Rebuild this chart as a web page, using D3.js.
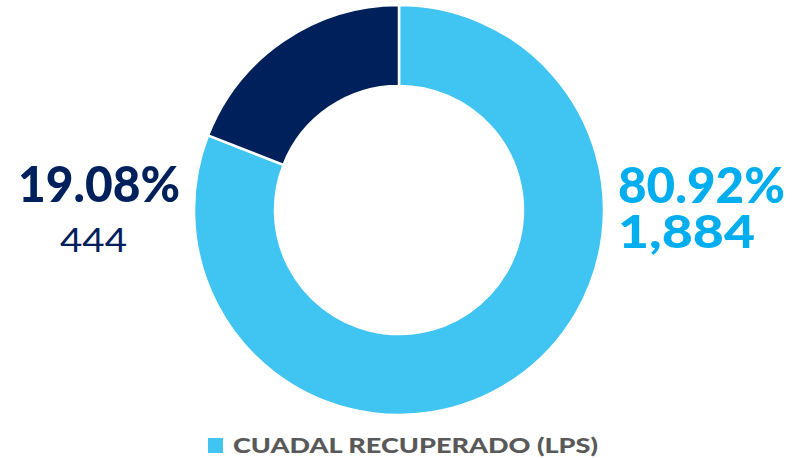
<!DOCTYPE html>
<html>
<head>
<meta charset="utf-8">
<script src="https://cdn.jsdelivr.net/npm/d3@7"></script>
<style>
  html, body { margin: 0; padding: 0; background: #fff; }
  #chart { width: 798px; height: 458px; }
  text { font-family: Lato, "Open Sans", sans-serif; }
</style>
</head>
<body>
<div id="chart"></div>
<script>
const categories = ['Recuperado', 'No recuperado'];
const values = [1884, 444];
const percentLabels = ['80.92%', '19.08%'];
const valueLabels = ['1,884', '444'];
const colors = ['#40c4f2', '#00205c'];
const legendLabel = 'CUADAL RECUPERADO (LPS)';

const width = 798, height = 458;
const cx = 399, cy = 210;
const outerR = 205, innerR = 124;

const svg = d3.select('#chart').append('svg')
    .attr('width', width)
    .attr('height', height);

const pie = d3.pie().sort(null).value(d => d);
const arc = d3.arc().innerRadius(innerR).outerRadius(outerR);

const g = svg.append('g')
    .attr('transform', `translate(${cx},${cy})`);

g.selectAll('path')
    .data(pie(values))
    .join('path')
    .attr('d', arc)
    .attr('fill', (d, i) => colors[i])
    .attr('stroke', '#fff')
    .attr('stroke-width', 2.5);

// helper: text squeezed to the width seen in the reference
function label(x, y, txt, size, weight, fill, len) {
    return svg.append('text')
        .attr('x', x).attr('y', y)
        .attr('textLength', len)
        .attr('lengthAdjust', 'spacingAndGlyphs')
        .style('font-size', size + 'px')
        .style('font-weight', weight)
        .style('fill', fill)
        .text(txt);
}

// right label (large slice)
label(618, 203, percentLabels[0], 50, 900, '#00aeef', 167);
label(618, 248, valueLabels[0], 45, 900, '#00aeef', 137);

// left label (small slice)
label(18, 202, percentLabels[1], 50, 900, '#00205c', 162);
label(60, 252, valueLabels[1], 33, 400, '#00205c', 67);

// legend
svg.append('rect')
    .attr('x', 208).attr('y', 438)
    .attr('width', 15).attr('height', 15)
    .attr('fill', colors[0]);
label(233, 452.5, legendLabel, 21, 900, '#595959', 365);
</script>
</body>
</html>
